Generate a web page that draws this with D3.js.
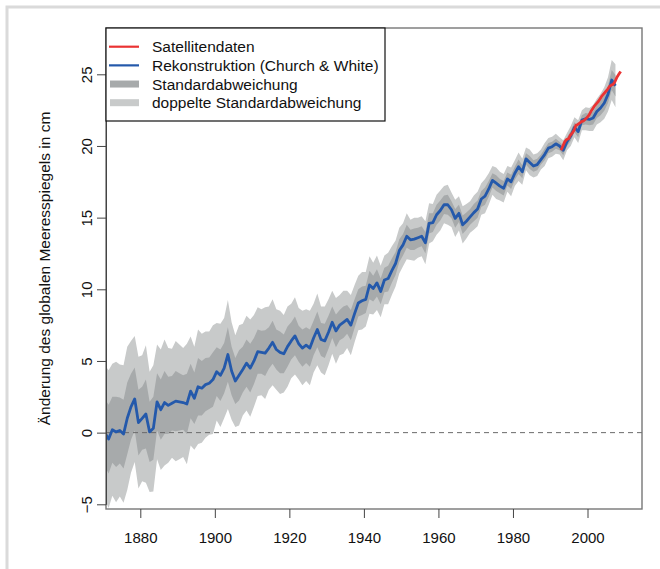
<!DOCTYPE html>
<html>
<head>
<meta charset="utf-8">
<script src="https://cdn.jsdelivr.net/npm/d3@7"></script>
<style>
  body { margin: 0; background: #fff; }
  svg { display: block; font-family: "Liberation Sans", Arial, Helvetica, sans-serif; }
</style>
</head>
<body>
<div id="chart"></div>
<script>
// reconstruction (Church & White), annual means, cm
const years = d3.range(1870, 2008);
const recon = [
  0.0, -0.45, 0.2, 0.05, 0.15, -0.1, 1.0, 1.8, 2.35, 0.7,
  1.0, 1.3, 0.05, 0.3, 2.15, 1.6, 2.1, 1.9, 2.05, 2.2,
  2.15, 2.1, 2.0, 2.9, 2.4, 3.2, 3.1, 3.35, 3.45, 3.7,
  4.25, 4.0, 4.5, 5.45, 4.3, 3.6, 4.0, 4.4, 4.85, 4.5,
  5.0, 5.65, 5.6, 5.55, 5.9, 6.3, 5.8, 5.6, 5.5, 6.0,
  6.4, 6.75, 6.2, 5.9, 6.1, 5.9, 6.6, 7.2, 6.5, 6.4,
  7.0, 7.7, 7.1, 7.5, 7.7, 7.9, 7.5, 8.3, 9.05, 9.2,
  9.3, 10.3, 10.05, 10.45, 9.85, 10.65, 10.75, 11.3, 11.8, 12.7,
  13.1, 13.7, 13.45, 13.5, 13.6, 13.7, 13.25, 14.6, 14.65, 15.2,
  15.5, 15.9, 15.9, 15.55, 14.95, 15.3, 14.5, 14.75, 15.05, 15.35,
  15.6, 16.3, 16.5, 17.0, 17.6, 17.4, 17.2, 17.05, 17.7, 17.5,
  18.1, 18.55, 18.2, 19.1, 18.85, 18.6, 18.7, 19.05, 19.4, 19.85,
  19.95, 20.15, 20.0, 19.7, 20.3, 20.7, 21.3, 21.0, 21.8, 21.9,
  21.85, 21.95, 22.4, 22.65, 23.0, 23.6, 24.6, 24.2
];
// one standard deviation of the reconstruction, cm
const sigma = [
  2.35, 2.4, 2.3, 2.45, 2.3, 2.4, 2.5, 2.3, 2.2, 2.3,
  2.2, 2.4, 2.1, 2.2, 2.0, 2.1, 2.2, 2.0, 1.9, 2.1,
  2.0, 1.9, 2.1, 1.9, 1.8, 2.0, 1.9, 1.85, 1.8, 1.9,
  1.7, 1.8, 1.75, 1.9, 1.7, 1.6, 1.75, 1.6, 1.65, 1.7,
  1.6, 1.55, 1.5, 1.6, 1.45, 1.5, 1.4, 1.45, 1.35, 1.4,
  1.3, 1.35, 1.25, 1.3, 1.25, 1.3, 1.2, 1.25, 1.15, 1.2,
  1.15, 1.1, 1.15, 1.05, 1.1, 1.0, 1.05, 1.0, 0.95, 1.0,
  0.95, 1.0, 0.9, 0.95, 0.9, 0.85, 0.9, 0.85, 0.8, 0.8,
  0.75, 0.8, 0.7, 0.75, 0.7, 0.7, 0.75, 0.7, 0.65, 0.7,
  0.7, 0.65, 0.7, 0.6, 0.65, 0.6, 0.65, 0.6, 0.55, 0.6,
  0.6, 0.55, 0.6, 0.55, 0.5, 0.55, 0.5, 0.5, 0.45, 0.5,
  0.45, 0.5, 0.45, 0.4, 0.45, 0.4, 0.4, 0.35, 0.4, 0.35,
  0.35, 0.35, 0.3, 0.35, 0.3, 0.35, 0.35, 0.4, 0.35, 0.4,
  0.4, 0.45, 0.45, 0.5, 0.55, 0.6, 0.7, 0.75
];
// satellite altimetry
const satTime = [
  1992.9, 1993.4, 1993.9, 1994.4, 1994.9, 1995.4, 1995.9, 1996.4, 1996.9, 1997.4,
  1997.9, 1998.4, 1998.9, 1999.4, 1999.9, 2000.4, 2000.9, 2001.4, 2001.9, 2002.4,
  2002.9, 2003.4, 2003.9, 2004.4, 2004.9, 2005.4, 2005.9, 2006.4, 2006.9, 2007.4,
  2007.9, 2008.4, 2008.9
];
const satLevel = [
  19.7, 20.0, 20.3, 20.45, 20.5, 20.75, 20.9, 21.1, 21.45, 21.5,
  21.6, 21.7, 21.75, 21.85, 22.0, 22.15, 22.4, 22.6, 22.8, 22.95,
  23.1, 23.3, 23.5, 23.65, 23.8, 23.95, 24.15, 24.25, 24.3, 24.5,
  24.8, 25.0, 25.2
];
const xTicks = [1880, 1900, 1920, 1940, 1960, 1980, 2000];
const yTicks = [-5, 0, 5, 10, 15, 20, 25];
const legendLabels = ['Satellitendaten', 'Rekonstruktion (Church & White)', 'Standardabweichung', 'doppelte Standardabweichung'];

const W = 660, H = 569;
const box = { left: 106, right: 642, top: 28, bottom: 509 };

const svg = d3.select('#chart').append('svg')
  .attr('width', W)
  .attr('height', H);

// light outer frame (left and top only visible)
svg.append('path')
  .attr('d', `M7,${H} V7 H${W}`)
  .attr('fill', 'none')
  .attr('stroke', '#dadada')
  .attr('stroke-width', 3);

const x = d3.scaleLinear().domain([1880, 2000]).range([140.3, 587.5]);
const y = d3.scaleLinear().domain([-5, 25]).range([504.3, 74.3]);

svg.append('clipPath').attr('id', 'plotclip')
  .append('rect')
  .attr('x', box.left).attr('y', box.top)
  .attr('width', box.right - box.left).attr('height', box.bottom - box.top);

const recData = years.map((yr, i) => ({ t: yr + 0.5, v: recon[i], s: sigma[i] }));
const satData = satTime.map((t, i) => ({ t: t, v: satLevel[i] }));

const plot = svg.append('g').attr('clip-path', 'url(#plotclip)');

// 2 sigma band
plot.append('path')
  .datum(recData)
  .attr('fill', '#c8caca')
  .attr('d', d3.area().x(d => x(d.t)).y0(d => y(d.v - 2 * d.s)).y1(d => y(d.v + 2 * d.s)));

// 1 sigma band
plot.append('path')
  .datum(recData)
  .attr('fill', '#a7aaab')
  .attr('d', d3.area().x(d => x(d.t)).y0(d => y(d.v - d.s)).y1(d => y(d.v + d.s)));

// zero line
plot.append('line')
  .attr('x1', box.left).attr('x2', box.right)
  .attr('y1', y(0)).attr('y2', y(0))
  .attr('stroke', '#6b6b6b')
  .attr('stroke-dasharray', '5,4');

plot.append('path')
  .datum(recData)
  .attr('fill', 'none')
  .attr('stroke', '#2459ab')
  .attr('stroke-width', 2.8)
  .attr('stroke-linejoin', 'round')
  .attr('d', d3.line().x(d => x(d.t)).y(d => y(d.v)));

plot.append('path')
  .datum(satData)
  .attr('fill', 'none')
  .attr('stroke', '#ea3333')
  .attr('stroke-width', 2.8)
  .attr('stroke-linejoin', 'round')
  .attr('d', d3.line().x(d => x(d.t)).y(d => y(d.v)));

// plot box
svg.append('rect')
  .attr('x', box.left).attr('y', box.top)
  .attr('width', box.right - box.left).attr('height', box.bottom - box.top)
  .attr('fill', 'none')
  .attr('stroke', '#777')
  .attr('stroke-width', 1.4);

// x axis
const xAxis = svg.append('g')
  .attr('transform', `translate(0,${box.bottom})`)
  .call(d3.axisBottom(x).tickValues(xTicks).tickFormat(d3.format('d')).tickSize(9).tickSizeOuter(0).tickPadding(14));
xAxis.select('.domain').remove();
xAxis.selectAll('.tick line').attr('stroke', '#444');
xAxis.selectAll('.tick text')
  .attr('font-size', 15)
  .attr('fill', '#111');

// y axis
const yAxis = svg.append('g')
  .attr('transform', `translate(${box.left},0)`)
  .call(d3.axisLeft(y).tickValues(yTicks).tickSize(9).tickSizeOuter(0));
yAxis.select('.domain').attr('stroke', '#444');
yAxis.selectAll('.tick line').attr('stroke', '#444');
yAxis.selectAll('.tick text')
  .attr('font-size', 15)
  .attr('fill', '#111')
  .attr('x', null)
  .attr('dy', null)
  .attr('text-anchor', 'middle')
  .attr('dominant-baseline', 'central')
  .attr('transform', 'translate(-20,0) rotate(-90)')
  .text(d => d < 0 ? '\u2212' + Math.abs(d) : d);

// y title
svg.append('text')
  .attr('transform', `translate(44,${(box.top + box.bottom) / 2}) rotate(-90)`)
  .attr('text-anchor', 'middle')
  .attr('dominant-baseline', 'central')
  .attr('font-size', 15.5)
  .attr('fill', '#111')
  .text('Änderung des globalen Meeresspiegels in cm');

// legend
const leg = svg.append('g');
leg.append('rect')
  .attr('x', 106).attr('y', 28)
  .attr('width', 279).attr('height', 93)
  .attr('fill', '#fff')
  .attr('stroke', '#111')
  .attr('stroke-width', 1.2);

const rowY = d3.scalePoint().domain(legendLabels).range([46.7, 102.7]);
const kinds = [
  { type: 'line', color: '#ea3333' },
  { type: 'line', color: '#2459ab' },
  { type: 'rect', color: '#a7aaab' },
  { type: 'rect', color: '#c8caca' }
];
legendLabels.forEach((lab, i) => {
  const cy = rowY(lab);
  if (kinds[i].type === 'line') {
    leg.append('line')
      .attr('x1', 109).attr('x2', 139)
      .attr('y1', cy).attr('y2', cy)
      .attr('stroke', kinds[i].color)
      .attr('stroke-width', 2.2);
  } else {
    leg.append('rect')
      .attr('x', 110).attr('y', cy - 3.5)
      .attr('width', 29).attr('height', 7)
      .attr('fill', kinds[i].color);
  }
  leg.append('text')
    .attr('x', 152).attr('y', cy)
    .attr('dominant-baseline', 'central')
    .attr('font-size', 15.5)
    .attr('fill', '#111')
    .text(lab);
});
</script>
</body>
</html>
